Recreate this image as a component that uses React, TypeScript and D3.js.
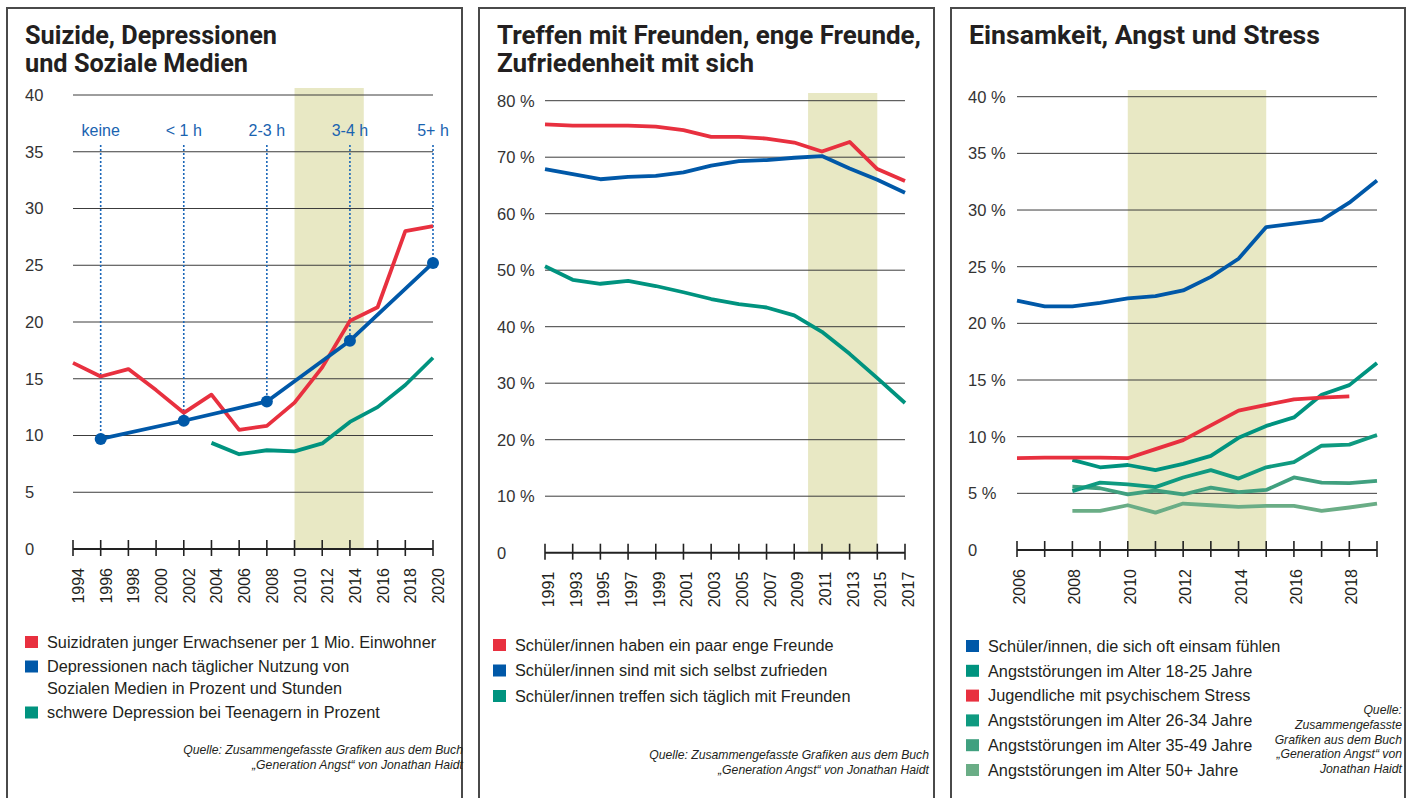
import React, { useEffect, useRef } from 'react';
import * as d3 from 'd3';

const RED = '#e8303f';
const BLUE = '#0058a8';
const TEAL = '#00937f';
const TEAL2 = '#0f9a80';
const TEAL3 = '#40a07f';
const TEAL4 = '#6aad86';
const TEXT = '#231f20';
const GRID = '#3c3c3c';
const BAND = '#e8e8c4';

// ---------- Panel 1: Suizide, Depressionen und Soziale Medien
const p1Years = [1994, 1996, 1998, 2000, 2002, 2004, 2006, 2008, 2010, 2012, 2014, 2016, 2018, 2020];
const suizidraten = [16.4, 15.2, 15.85, 14.0, 12.0, 13.6, 10.5, 10.85, 12.9, 16.0, 20.1, 21.3, 28.0, 28.45];
const depYears = [1996, 2002, 2008, 2014, 2020];
const depWerte = [9.7, 11.3, 13.0, 18.35, 25.2];
const depLabels = ['keine', '< 1 h', '2-3 h', '3-4 h', '5+ h'];
const teenYears = [2004, 2006, 2008, 2010, 2012, 2014, 2016, 2018, 2020];
const teenWerte = [9.35, 8.35, 8.7, 8.6, 9.3, 11.2, 12.5, 14.45, 16.85];
const p1YTicks = [0, 5, 10, 15, 20, 25, 30, 35, 40];

// ---------- Panel 2: Treffen mit Freunden
const p2Years = [1991, 1993, 1995, 1997, 1999, 2001, 2003, 2005, 2007, 2009, 2011, 2013, 2015, 2017];
const engeFreunde = [75.8, 75.6, 75.6, 75.6, 75.4, 74.8, 73.6, 73.6, 73.3, 72.6, 71.0, 72.7, 67.9, 65.8];
const zufrieden = [67.9, 67.0, 66.1, 66.5, 66.7, 67.3, 68.5, 69.3, 69.5, 69.9, 70.2, 68.0, 66.0, 63.7];
const treffen = [50.7, 48.3, 47.6, 48.1, 47.2, 46.1, 44.9, 44.0, 43.4, 42.0, 39.1, 35.2, 30.9, 26.5];
const p2YTicks = [0, 10, 20, 30, 40, 50, 60, 70, 80];

// ---------- Panel 3: Einsamkeit, Angst und Stress
const p3Years = [2006, 2007, 2008, 2009, 2010, 2011, 2012, 2013, 2014, 2015, 2016, 2017, 2018, 2019];
const p3LabelYears = [2006, 2008, 2010, 2012, 2014, 2016, 2018];
const einsam = [22.0, 21.5, 21.5, 21.8, 22.2, 22.4, 22.9, 24.1, 25.7, 28.5, 28.8, 29.1, 30.65, 32.6];
const stressYears = [2006, 2007, 2008, 2009, 2010, 2011, 2012, 2013, 2014, 2015, 2016, 2017, 2018];
const stress = [8.1, 8.15, 8.15, 8.15, 8.1, 8.9, 9.7, 11.0, 12.3, 12.8, 13.3, 13.45, 13.55];
const angstYears = [2008, 2009, 2010, 2011, 2012, 2013, 2014, 2015, 2016, 2017, 2018, 2019];
const angst1825 = [7.95, 7.3, 7.5, 7.05, 7.6, 8.3, 9.9, 10.95, 11.7, 13.7, 14.55, 16.5];
const angst2634 = [5.2, 5.95, 5.8, 5.55, 6.4, 7.05, 6.3, 7.3, 7.75, 9.2, 9.3, 10.15];
const angst3549 = [5.6, 5.45, 4.9, 5.25, 4.9, 5.5, 5.1, 5.3, 6.4, 5.95, 5.9, 6.1];
const angst50 = [3.45, 3.45, 3.95, 3.3, 4.1, 3.95, 3.8, 3.9, 3.9, 3.45, 3.75, 4.1];
const p3YTicks = [0, 5, 10, 15, 20, 25, 30, 35, 40];

const SOURCE = ['Quelle: Zusammengefasste Grafiken aus dem Buch', '„Generation Angst“ von Jonathan Haidt'];
const SOURCE3 = ['Quelle:', 'Zusammengefasste', 'Grafiken aus dem Buch', '„Generation Angst“ von', 'Jonathan Haidt'];

const panels = [
  {
    left: 7, right: 462,
    title: ['Suizide, Depressionen', 'und Soziale Medien'], titleX: 25, titleW: [252, 223],
    x0: 73, x1: 433, yTop: 95, yBottom: 549, yMax: 40, xDomain: [1994, 2020],
    yTicks: p1YTicks, yFmt: (d) => String(d), yLabelX: 25,
    bandTop: 88, xTicks: p1Years, xLabels: p1Years, labelDx: 11,
    series: [
      { years: p1Years, values: suizidraten, color: RED },
      { years: teenYears, values: teenWerte, color: TEAL },
      { years: depYears, values: depWerte, color: BLUE },
    ],
    legend: [
      { color: RED, lines: ['Suizidraten junger Erwachsener per 1 Mio. Einwohner'] },
      { color: BLUE, lines: ['Depressionen nach täglicher Nutzung von', 'Sozialen Medien in Prozent und Stunden'] },
      { color: TEAL, lines: ['schwere Depression bei Teenagern in Prozent'] },
    ],
    legendX: 25, legendY: 642, legendStep: 24.5,
    source: SOURCE, sourceX: 463, sourceY: 754,
  },
  {
    left: 479, right: 934,
    title: ['Treffen mit Freunden, enge Freunde,', 'Zufriedenheit mit sich'], titleX: 497, titleW: [424, 257],
    x0: 545, x1: 905, yTop: 100.7, yBottom: 552.7, yMax: 80, xDomain: [1991, 2017],
    yTicks: p2YTicks, yFmt: (d) => (d === 0 ? '0' : d + ' %'), yLabelX: 497,
    bandTop: 93, xTicks: p2Years, xLabels: p2Years, labelDx: 9,
    series: [
      { years: p2Years, values: engeFreunde, color: RED },
      { years: p2Years, values: zufrieden, color: BLUE },
      { years: p2Years, values: treffen, color: TEAL },
    ],
    legend: [
      { color: RED, lines: ['Schüler/innen haben ein paar enge Freunde'] },
      { color: BLUE, lines: ['Schüler/innen sind mit sich selbst zufrieden'] },
      { color: TEAL, lines: ['Schüler/innen treffen sich täglich mit Freunden'] },
    ],
    legendX: 493, legendY: 645, legendStep: 25.5,
    source: SOURCE, sourceX: 929, sourceY: 759,
  },
  {
    left: 951, right: 1405,
    title: ['Einsamkeit, Angst und Stress'], titleX: 969, titleW: [351],
    x0: 1017, x1: 1377, yTop: 96.7, yBottom: 550, yMax: 40, xDomain: [2006, 2019],
    yTicks: p3YTicks, yFmt: (d) => (d === 0 ? '0' : d + ' %'), yLabelX: 968,
    bandTop: 90, xTicks: p3Years, xLabels: p3LabelYears, labelDx: 8,
    series: [
      { years: angstYears, values: angst50, color: TEAL4 },
      { years: angstYears, values: angst3549, color: TEAL3 },
      { years: angstYears, values: angst2634, color: TEAL2 },
      { years: angstYears, values: angst1825, color: TEAL },
      { years: stressYears, values: stress, color: RED },
      { years: p3Years, values: einsam, color: BLUE },
    ],
    legend: [
      { color: BLUE, lines: ['Schüler/innen, die sich oft einsam fühlen'] },
      { color: TEAL, lines: ['Angststörungen im Alter 18-25 Jahre'] },
      { color: RED, lines: ['Jugendliche mit psychischem Stress'] },
      { color: TEAL2, lines: ['Angststörungen im Alter 26-34 Jahre'] },
      { color: TEAL3, lines: ['Angststörungen im Alter 35-49 Jahre'] },
      { color: TEAL4, lines: ['Angststörungen im Alter 50+ Jahre'] },
    ],
    legendX: 966, legendY: 646, legendStep: 24.8,
    source: SOURCE3, sourceX: 1402, sourceY: 714,
  },
];

export default function App() {
  const ref = useRef(null);

  useEffect(() => {
    const svg = d3.select(ref.current);
    svg.selectAll('*').remove();

    panels.forEach((p, pi) => {
      const g = svg.append('g');
      const x = d3.scaleLinear().domain(p.xDomain).range([p.x0, p.x1]);
      const y = d3.scaleLinear().domain([0, p.yMax]).range([p.yBottom, p.yTop]);

      // frame (no bottom edge)
      g.append('path')
        .attr('d', `M${p.left},798V8H${p.right}V798`)
        .attr('fill', 'none')
        .attr('stroke', '#4a4a4a')
        .attr('stroke-width', 2);

      // title
      p.title.forEach((t, i) => {
        g.append('text')
          .attr('x', p.titleX)
          .attr('y', 44 + i * 27.5)
          .attr('font-family', 'Roboto, sans-serif')
          .attr('font-weight', 700)
          .attr('font-size', 25)
          .attr('fill', TEXT)
          .attr('textLength', p.titleW[i])
          .attr('lengthAdjust', 'spacingAndGlyphs')
          .text(t);
      });

      // highlighted period 2010-2015
      g.append('rect')
        .attr('x', x(2010))
        .attr('y', p.bandTop)
        .attr('width', x(2015) - x(2010))
        .attr('height', p.yBottom - p.bandTop)
        .attr('fill', BAND);

      // gridlines
      g.selectAll('.grid')
        .data(p.yTicks.filter((d) => d > 0))
        .enter().append('line')
        .attr('x1', p.x0).attr('x2', p.x1)
        .attr('y1', (d) => y(d)).attr('y2', (d) => y(d))
        .attr('stroke', GRID)
        .attr('stroke-width', 1);

      // y labels
      g.selectAll('.ylab')
        .data(p.yTicks)
        .enter().append('text')
        .attr('x', p.yLabelX)
        .attr('y', (d) => y(d))
        .attr('dy', '0.36em')
        .attr('font-family', 'Liberation Sans, Arial, sans-serif')
        .attr('font-size', 16.5)
        .attr('fill', '#333')
        .text((d) => p.yFmt(d));

      // hours markers for panel 1
      if (pi === 0) {
        depYears.forEach((yr, i) => {
          g.append('line')
            .attr('x1', x(yr)).attr('x2', x(yr))
            .attr('y1', 145).attr('y2', y(depWerte[i]))
            .attr('stroke', '#1a66b8')
            .attr('stroke-width', 1.6)
            .attr('stroke-dasharray', '2,2');
          g.append('text')
            .attr('x', x(yr))
            .attr('y', 136)
            .attr('text-anchor', 'middle')
            .attr('font-family', 'Liberation Sans, Arial, sans-serif')
            .attr('font-size', 16)
            .attr('fill', '#1a63b0')
            .text(depLabels[i]);
        });
      }

      // lines
      const line = d3.line()
        .x((d) => x(d[0]))
        .y((d) => y(d[1]));
      p.series.forEach((s) => {
        g.append('path')
          .attr('d', line(s.years.map((yr, i) => [yr, s.values[i]])))
          .attr('fill', 'none')
          .attr('stroke', s.color)
          .attr('stroke-width', 3.8)
          .attr('stroke-linejoin', 'round');
      });

      if (pi === 0) {
        g.selectAll('.dot')
          .data(depYears)
          .enter().append('circle')
          .attr('cx', (d) => x(d))
          .attr('cy', (d, i) => y(depWerte[i]))
          .attr('r', 6)
          .attr('fill', BLUE);
      }

      // x axis
      g.append('line')
        .attr('x1', p.x0).attr('x2', p.x1)
        .attr('y1', p.yBottom).attr('y2', p.yBottom)
        .attr('stroke', '#222')
        .attr('stroke-width', 2);
      g.selectAll('.tick')
        .data(p.xTicks)
        .enter().append('line')
        .attr('x1', (d) => x(d)).attr('x2', (d) => x(d))
        .attr('y1', p.yBottom - 9).attr('y2', p.yBottom + 7)
        .attr('stroke', '#222')
        .attr('stroke-width', 1.6);
      g.selectAll('.xlab')
        .data(p.xLabels)
        .enter().append('text')
        .attr('transform', (d) => `translate(${x(d) + p.labelDx},${p.yBottom + 19}) rotate(-90)`)
        .attr('text-anchor', 'end')
        .attr('font-family', 'Liberation Sans, Arial, sans-serif')
        .attr('font-size', 16)
        .attr('fill', TEXT)
        .text((d) => d);

      // legend
      let ly = p.legendY;
      p.legend.forEach((item) => {
        g.append('rect')
          .attr('x', p.legendX)
          .attr('y', ly - 6)
          .attr('width', 13)
          .attr('height', 12)
          .attr('fill', item.color);
        item.lines.forEach((t, i) => {
          g.append('text')
            .attr('x', p.legendX + 22)
            .attr('y', ly + i * 21.5)
            .attr('dy', '0.36em')
            .attr('font-family', 'Liberation Sans, Arial, sans-serif')
            .attr('font-size', 16.3)
            .attr('fill', TEXT)
            .text(t);
        });
        ly += p.legendStep + (item.lines.length - 1) * 21.5;
      });

      // source
      p.source.forEach((t, i) => {
        g.append('text')
          .attr('x', p.sourceX)
          .attr('y', p.sourceY + i * (pi === 2 ? 14.8 : 15))
          .attr('text-anchor', 'end')
          .attr('font-family', 'Liberation Sans, Arial, sans-serif')
          .attr('font-style', 'italic')
          .attr('font-size', 12.2)
          .attr('fill', TEXT)
          .text(t);
      });
    });
  }, []);

  return (
    <svg
      ref={ref}
      width={1410}
      height={798}
      style={{ position: 'absolute', left: 0, top: 0, background: '#fff' }}
    />
  );
}
